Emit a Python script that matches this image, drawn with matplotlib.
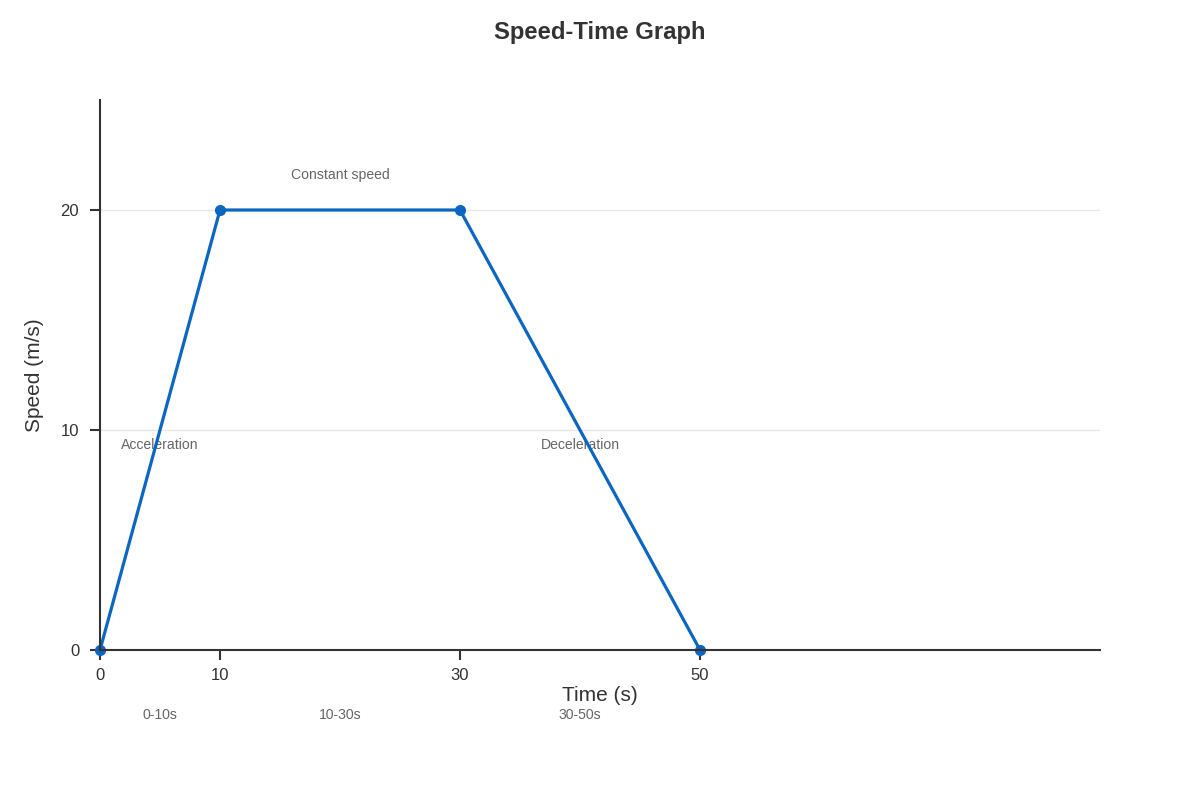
import matplotlib
matplotlib.use("Agg")
import matplotlib.pyplot as plt

plt.rcParams["font.family"] = ["Liberation Sans", "DejaVu Sans"]

# data
time_s = [0, 10, 30, 50]
speed = [0, 20, 20, 0]
x_ticks = [0, 10, 30, 50]
y_ticks = [0, 10, 20]
phase_names = ["Acceleration", "Constant speed", "Deceleration"]
phase_x = [5, 20, 40]
phase_y = [9.3, 21.6, 9.3]
range_labels = ["0-10s", "10-30s", "30-50s"]

fig = plt.figure(figsize=(12, 8), dpi=100)
ax = fig.add_axes([100 / 1200, 150 / 800, 1000 / 1200, 550 / 800])

ax.plot(time_s, speed, color="#0B66C2", lw=2.3, marker="o", ms=7, zorder=3,
        clip_on=False)

ax.set_xlim(0, 1000 / 12)
ax.set_ylim(0, 25)
ax.set_xticks(x_ticks)
ax.set_yticks(y_ticks)
ax.tick_params(colors="#333333", labelsize=12, width=1.5, length=7)
ax.tick_params(axis="x", pad=6)
ax.tick_params(axis="y", pad=8)

for s in ["top", "right"]:
    ax.spines[s].set_visible(False)
for s in ["left", "bottom"]:
    ax.spines[s].set_color("#333333")
    ax.spines[s].set_linewidth(1.5)
    ax.spines[s].set_zorder(4)

for y in y_ticks[1:]:
    ax.axhline(y, color="#e6e6e6", lw=1, zorder=0)

for name, x, y in zip(phase_names, phase_x, phase_y):
    ax.text(x, y, name, ha="center", va="center", fontsize=10.1,
            color="#666666", zorder=2)

for lab, x in zip(range_labels, phase_x):
    ax.text(x, -65 / 22, lab, ha="center", va="center", fontsize=10.1,
            color="#666666", clip_on=False)

ax.set_xlabel("Time (s)", fontsize=15, color="#333333", labelpad=2)
ax.set_ylabel("Speed (m/s)", fontsize=15, color="#333333", labelpad=12)
fig.suptitle("Speed-Time Graph", fontsize=17.2, fontweight="bold",
             color="#333333", y=1 - 32 / 800, va="center")

fig.savefig("out.png", dpi=100, facecolor="white")
